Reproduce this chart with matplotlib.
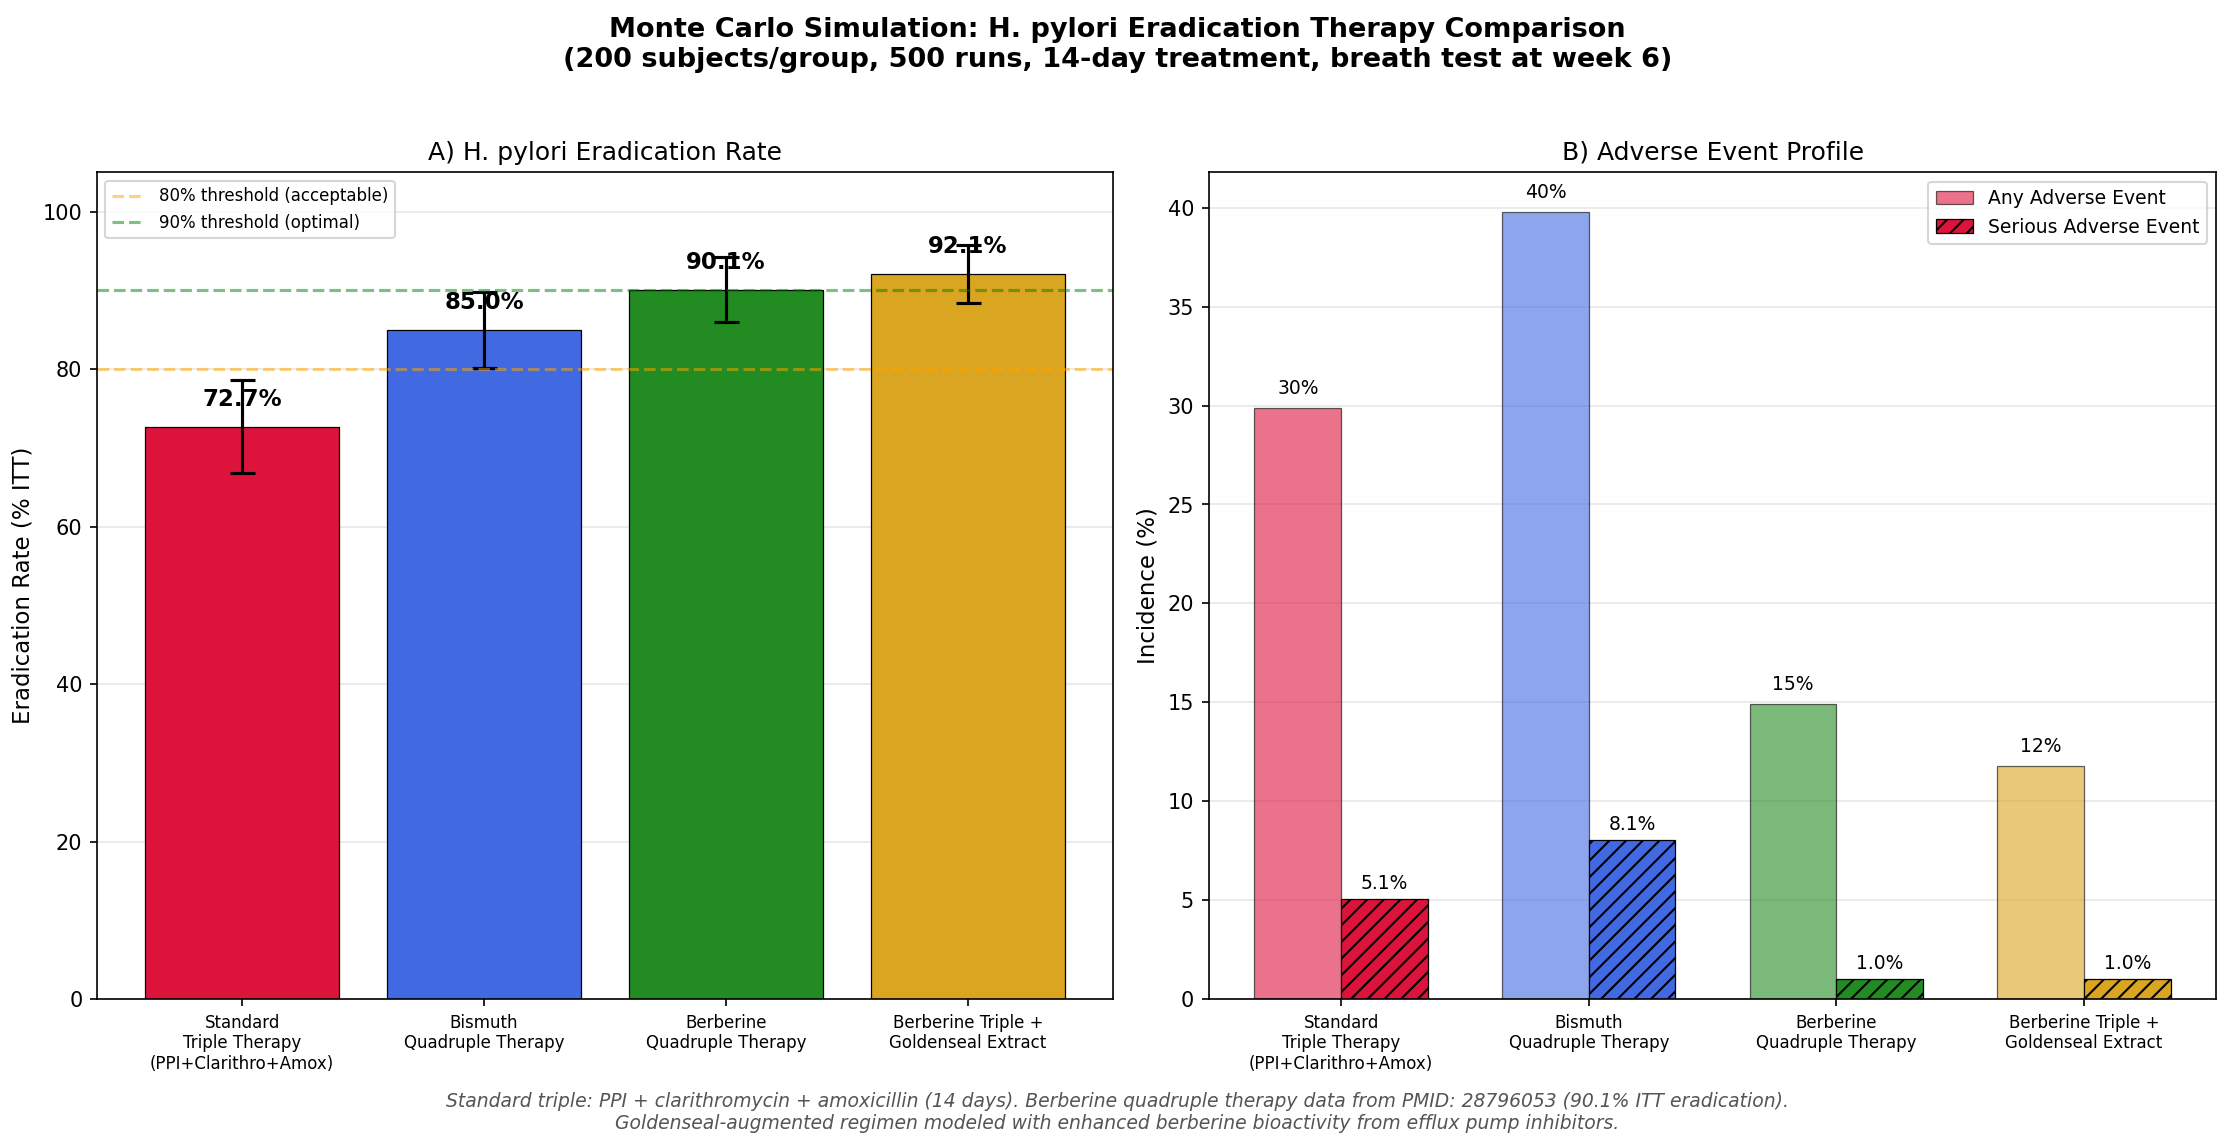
import matplotlib
matplotlib.use("Agg")
import matplotlib.pyplot as plt
import numpy as np

regimens = ['Standard\nTriple Therapy\n(PPI+Clarithro+Amox)', 'Bismuth\nQuadruple Therapy',
            'Berberine\nQuadruple Therapy', 'Berberine Triple +\nGoldenseal Extract']
colors = ['crimson', 'royalblue', 'forestgreen', 'goldenrod']

erad_rate = [72.7, 85.0, 90.1, 92.1]
erad_err = [5.9, 4.8, 4.1, 3.7]

any_ae = [29.9, 39.8, 14.9, 11.8]
serious_ae = [5.08, 8.06, 1.0, 1.0]

fig = plt.figure(figsize=(14.9, 7.647), dpi=150)
ax1 = fig.add_axes([0.0434, 0.129, 0.4546, 0.7207])
ax2 = fig.add_axes([0.5408, 0.129, 0.4509, 0.7207])

x = np.arange(len(regimens))

# panel A
ax1.bar(x, erad_rate, color=colors, edgecolor='black', linewidth=0.6, width=0.8,
        yerr=erad_err, capsize=6, error_kw={'elinewidth': 1.5, 'capthick': 1.5})
ax1.axhline(80, color='orange', linestyle='--', alpha=0.5, linewidth=1.5, label='80% threshold (acceptable)')
ax1.axhline(90, color='green', linestyle='--', alpha=0.5, linewidth=1.5, label='90% threshold (optimal)')
for i, v in enumerate(erad_rate):
    ax1.text(i, v + 2, f'{v:.1f}%', ha='center', va='bottom', fontsize=11, fontweight='bold')
ax1.set_ylim(0, 105)
ax1.set_xlim(-0.6, 3.6)
ax1.set_xticks(x)
ax1.set_xticklabels(regimens, fontsize=8)
ax1.set_ylabel('Eradication Rate (% ITT)', fontsize=11)
ax1.set_title('A) H. pylori Eradication Rate', fontsize=12)
ax1.legend(loc='upper left', fontsize=8)
ax1.grid(axis='y', alpha=0.3)
ax1.set_axisbelow(True)

# panel B
w = 0.35
ax2.bar(x - w / 2, any_ae, w, color=colors, alpha=0.6, edgecolor='black', linewidth=0.6,
        label='Any Adverse Event')
ax2.bar(x + w / 2, serious_ae, w, color=colors, edgecolor='black', linewidth=0.6,
        hatch='///', label='Serious Adverse Event')
for i in range(len(regimens)):
    ax2.text(i - w / 2, any_ae[i] + 0.5, f'{any_ae[i]:.0f}%', ha='center', va='bottom', fontsize=9)
    ax2.text(i + w / 2, serious_ae[i] + 0.3, f'{serious_ae[i]:.1f}%', ha='center', va='bottom', fontsize=9)
ax2.set_xticks(x)
ax2.set_xticklabels(regimens, fontsize=8)
ax2.set_ylabel('Incidence (%)', fontsize=11)
ax2.set_title('B) Adverse Event Profile', fontsize=12)
ax2.legend(loc='upper right', fontsize=9)
ax2.grid(axis='y', alpha=0.3)
ax2.set_axisbelow(True)

fig.suptitle('Monte Carlo Simulation: H. pylori Eradication Therapy Comparison\n'
             '(200 subjects/group, 500 runs, 14-day treatment, breath test at week 6)',
             fontsize=13, fontweight='bold', y=0.985)

fig.text(0.5, 0.012,
         'Standard triple: PPI + clarithromycin + amoxicillin (14 days). Berberine quadruple therapy data from PMID: 28796053 (90.1% ITT eradication).\n'
         'Goldenseal-augmented regimen modeled with enhanced berberine bioactivity from efflux pump inhibitors.',
         ha='center', va='bottom', fontsize=9, style='italic', color='#555555')

fig.savefig('out.png', dpi=150)
